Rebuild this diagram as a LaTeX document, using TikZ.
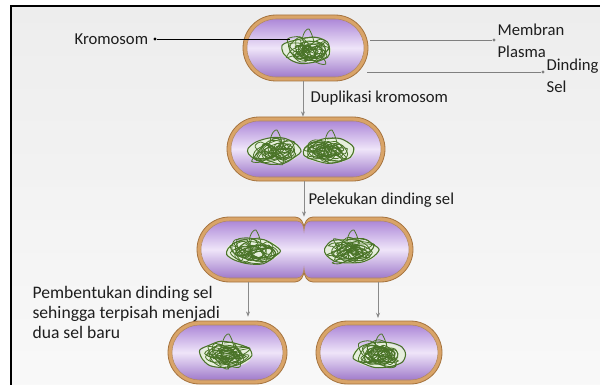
\documentclass[tikz,border=0pt]{standalone}
\usepackage{fontspec}
\setmainfont{Carlito}
\usetikzlibrary{arrows.meta}

\definecolor{wallc}{HTML}{D9A468}
\definecolor{walld}{HTML}{A5733E}
\definecolor{cyt1}{HTML}{AD88D8}
\definecolor{cyt2}{HTML}{EFE5F9}
\definecolor{cyt3}{HTML}{A07BCB}
\definecolor{chl}{HTML}{4A7428}
\definecolor{chf}{HTML}{E6EFDC}
\definecolor{lbl}{HTML}{1E1E1E}
\definecolor{arrc}{HTML}{8A8A8A}
\definecolor{bgtop}{HTML}{EDEDED}
\definecolor{bgbot}{HTML}{F9F9F9}

\tikzset{
  wall/.style={fill=wallc, draw=walld, line width=0.6pt},
  cyto/.style={top color=cyt1, bottom color=cyt3, middle color=cyt2, draw=walld!85, line width=0.4pt},
  chline/.style={draw=chl, line width=0.6pt},
  txt/.style={font=\fontsize{12.5}{16.5}\selectfont, text=lbl, inner sep=1pt, align=left},
  txtb/.style={font=\fontsize{13.2}{15}\selectfont, text=lbl, inner sep=1pt, align=left},
  arr/.style={draw=arrc, line width=0.55pt, -{Stealth[length=4pt,width=3pt]}},
  pointer/.style={draw=#1, line width=0.5pt},
  dot/.style={fill=#1, circle, inner sep=0pt, minimum size=2.6pt},
}

% geometry of a rounded cell (pixel units)
\newcommand\setpill[4]{%
  \pgfmathsetmacro\Xl{#1}\pgfmathsetmacro\Yt{#2}%
  \pgfmathsetmacro\Xr{#3}\pgfmathsetmacro\Yb{#4}%
  \pgfmathsetmacro\R{(\Yb-\Yt)/2}\pgfmathsetmacro\K{0.5523*\R}%
  \pgfmathsetmacro\Cy{(\Yb+\Yt)/2}}

\newcommand\pillpath{({\Xl+\R},\Yt) -- ({\Xr-\R},\Yt)
  .. controls ({\Xr-\R+\K},\Yt) and (\Xr,{\Cy-\K}) .. (\Xr,\Cy)
  .. controls (\Xr,{\Cy+\K}) and ({\Xr-\R+\K},\Yb) .. ({\Xr-\R},\Yb)
  -- ({\Xl+\R},\Yb)
  .. controls ({\Xl+\R-\K},\Yb) and (\Xl,{\Cy+\K}) .. (\Xl,\Cy)
  .. controls (\Xl,{\Cy-\K}) and ({\Xl+\R-\K},\Yt) .. ({\Xl+\R},\Yt) -- cycle}

% same outline, pinched at \Xm on top and bottom
\newcommand\notchpath{({\Xl+\R},\Yt) -- ({\Xm-\N},\Yt)
  .. controls ({\Xm-\N/3},\Yt) and (\Xm,{\Yt+\D/2}) .. (\Xm,{\Yt+\D})
  .. controls (\Xm,{\Yt+\D/2}) and ({\Xm+\N/3},\Yt) .. ({\Xm+\N},\Yt)
  -- ({\Xr-\R},\Yt)
  .. controls ({\Xr-\R+\K},\Yt) and (\Xr,{\Cy-\K}) .. (\Xr,\Cy)
  .. controls (\Xr,{\Cy+\K}) and ({\Xr-\R+\K},\Yb) .. ({\Xr-\R},\Yb)
  -- ({\Xm+\N},\Yb)
  .. controls ({\Xm+\N/3},\Yb) and (\Xm,{\Yb-\D/2}) .. (\Xm,{\Yb-\D})
  .. controls (\Xm,{\Yb-\D/2}) and ({\Xm-\N/3},\Yb) .. ({\Xm-\N},\Yb)
  -- ({\Xl+\R},\Yb)
  .. controls ({\Xl+\R-\K},\Yb) and (\Xl,{\Cy+\K}) .. (\Xl,\Cy)
  .. controls (\Xl,{\Cy-\K}) and ({\Xl+\R-\K},\Yt) .. ({\Xl+\R},\Yt) -- cycle}

% cell: x1 y1 x2 y2 name
\newcommand\cell[5]{%
  \node[inner sep=0pt, minimum width={(#3-(#1))*0.75pt}, minimum height={(#4-(#2))*0.75pt}]
    (#5) at ({(#1+#3)/2},{(#2+#4)/2}) {};
  \setpill{#1}{#2}{#3}{#4}\path[wall] \pillpath;
  \setpill{#1+4}{#2+4}{#3-4}{#4-4}\path[cyto] \pillpath;}

% dividing cell: x1 y1 x2 y2 xmid name
\newcommand\dividingcell[6]{%
  \node[inner sep=0pt, minimum width={(#3-(#1))*0.75pt}, minimum height={(#4-(#2))*0.75pt}]
    (#6) at ({(#1+#3)/2},{(#2+#4)/2}) {};
  \pgfmathsetmacro\Xm{#5}%
  \setpill{#1}{#2}{#3}{#4}\def\N{9}\def\D{12}\path[wall] \notchpath;
  \setpill{#1+4}{#2+4}{#3-4}{#4-4}\def\N{7}\def\D{10}\path[cyto] \notchpath;}

% tangled chromosome: x y seed half-width
\newcommand\chromo[4]{%
  \pgfmathsetseed{#3}%
  \fill[chf] (#1,#2) ellipse [x radius=#4, y radius=12.5];
  \foreach \i in {1,...,22}{%
    \pgfmathsetmacro\rx{4+rnd*#4*0.55}%
    \pgfmathsetmacro\ry{2.5+rnd*6.5}%
    \pgfmathsetmacro\dx{rand*(#4-\rx)*0.85}%
    \pgfmathsetmacro\dy{rand*(12.5-\ry)*0.75}%
    \pgfmathsetmacro\rot{rand*35}%
    \draw[chline, rotate around={\rot:({#1+\dx},{#2+\dy})}]
      plot[smooth cycle, variable=\t, samples=6, domain=0:300]
      ({#1+\dx+\rx*cos(\t)+rand*2.2},{#2+\dy+\ry*sin(\t)+rand*2.2});
  }
  \draw[chline, line width=0.8pt] plot[smooth cycle, variable=\t, samples=11, domain=0:327]
    ({#1+#4*cos(\t)+rand*1.5},{#2+12.5*sin(\t)+rand*1.5});
  \draw[chline] ({#1-4},{#2-9}) .. controls ({#1-3},{#2-18}) and ({#1+1},{#2-22}) .. ({#1+3},{#2-21})
    .. controls ({#1+5},{#2-18}) and ({#1+7},{#2-13}) .. ({#1+8},{#2-8});
  \draw[chline] ({#1-2},{#2-12}) -- ({#1+6},{#2-13});
}

\begin{document}
\begin{tikzpicture}[x=0.75pt, y=-0.75pt]
  \useasboundingbox (0,0) rectangle (600,385);
  \clip (0,0) rectangle (600,385);

  % page and frame
  \fill[white] (0,0) rectangle (600,385);
  \shade[top color=bgtop, bottom color=bgbot] (11,6) rectangle (620,400);
  \draw[black, line width=1.6pt] (620,6) -- (11,6) -- (11,400);

  % cells
  \cell{243}{15}{368}{81}{c1}
  \cell{227}{117}{385}{181}{c2}
  \dividingcell{197}{217}{413}{282}{304}{c3}
  \cell{168}{321}{287}{384}{c4}
  \cell{316}{321}{442}{384}{c5}

  % chromosomes
  \chromo{306}{50}{11}{25}
  \chromo{274}{151}{21}{26}
  \chromo{329}{151}{22}{26}
  \chromo{253}{251}{31}{27}
  \chromo{351}{251}{32}{27}
  \chromo{226}{355}{41}{26}
  \chromo{379}{355}{42}{26}

  % labels on the first cell
  \node[txt, anchor=west] (kro) at (73,39) {Kromosom};
  \node[dot=black] (kd) at (155,39) {};
  \coordinate (kin) at (290,39);
  \draw[pointer=black] (kd) -- (kin);

  \node[txt, anchor=west] (mem) at (496,41) {Membran\\Plasma};
  \node[dot=gray] (md) at (494,40) {};
  \coordinate (mw) at (370,40);
  \draw[pointer=gray] (mw) -- (md);

  \node[txt, anchor=west] (din) at (545,76) {Dinding\\Sel};
  \node[dot=gray] (dd) at (543,72) {};
  \coordinate (dw) at (367,72);
  \draw[pointer=gray] (dw) -- (dd);

  % steps
  \draw[arr] ([xshift=-1.9pt]c1.south) -- ([xshift=-1.9pt]c1.south |- c2.north);
  \node[txt, anchor=west] (dup) at (309,98) {Duplikasi kromosom};

  \draw[arr] ([xshift=-1.5pt]c2.south) -- ([xshift=-1.5pt]c2.south |- c3.north);
  \node[txt, anchor=west] (pel) at (307,200) {Pelekukan dinding sel};

  \coordinate (s3a) at (248,282);
  \coordinate (s3b) at (378,282);
  \draw[arr, shorten >=3pt] (s3a) -- (s3a |- c4.north);
  \draw[arr, shorten >=2pt] (s3b) -- (s3b |- c5.north);
  \node[txtb, anchor=west] (pem) at (31,312)
    {Pembentukan dinding sel\\sehingga terpisah menjadi\\dua sel baru};
\end{tikzpicture}
\end{document}
